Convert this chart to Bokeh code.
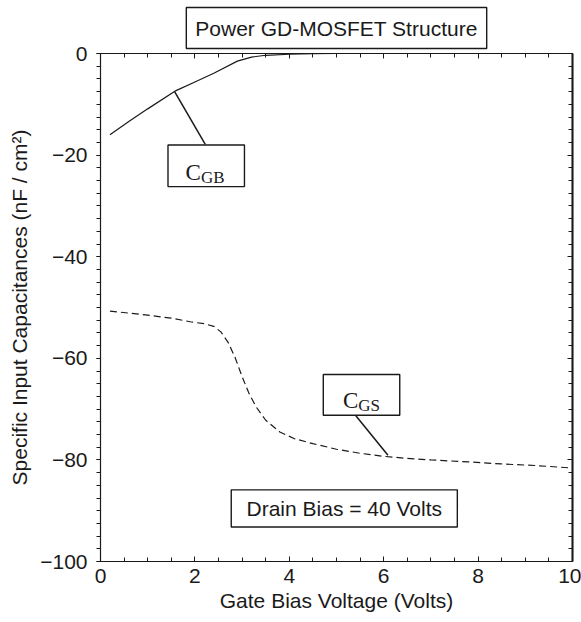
from bokeh.plotting import figure
from bokeh.models import (Range1d, LinearAxis, SingleIntervalTicker,
                          CustomJSTickFormatter)
from bokeh.core.properties import value
from bokeh.embed import file_html
from bokeh.resources import INLINE

# ---------------- data ----------------
gate_cgb = [0.2, 0.6, 1.0, 1.6, 2.0, 2.4, 2.9, 3.2, 3.5, 4.0, 4.5, 5.0]
cgb = [-16.0, -13.4, -10.9, -7.3, -5.6, -3.9, -1.5, -0.7, -0.35, -0.15, -0.05, 0.0]

gate_cgs = [0.2, 0.6, 1.0, 1.5, 1.9, 2.2, 2.4, 2.55, 2.7, 2.85, 3.0, 3.15, 3.3,
            3.5, 3.8, 4.1, 4.5, 5.0, 5.5, 6.0, 6.5, 7.0, 7.8, 8.5, 9.2, 10.0]
cgs = [-50.7, -51.1, -51.5, -52.1, -52.8, -53.2, -53.7, -54.8, -56.8, -59.8,
       -63.6, -67.0, -69.6, -72.2, -74.5, -75.8, -76.8, -77.9, -78.7, -79.3,
       -79.7, -80.0, -80.4, -80.8, -81.1, -81.6]

x_ticks = [0, 2, 4, 6, 8, 10]
x_tick_labels = ["0", "2", "4", "6", "8", "10"]
y_ticks = [0, -20, -40, -60, -80, -100]
y_tick_labels = ["0", "\u221220", "\u221240", "\u221260", "\u221280", "\u2212100"]

title_text = "Power GD-MOSFET Structure"
x_label = "Gate Bias Voltage (Volts)"
y_label = "Specific Input Capacitances (nF / cm\u00b2)"
note_text = "Drain Bias = 40 Volts"

# ---------------- figure ----------------
SANS = "Liberation Sans"
SERIF = "Liberation Serif"
INK = "#1a1a1a"

p = figure(width=581, height=622, x_range=Range1d(0, 10), y_range=Range1d(-100, 0),
           output_backend="svg", toolbar_location=None,
           min_border_left=100, min_border_right=9, min_border_top=53,
           min_border_bottom=61)
p.grid.visible = False
p.outline_line_color = INK
p.outline_line_width = 1.2
p.background_fill_color = "white"
p.border_fill_color = "white"

# title in a box
p.title.text = title_text
p.title.align = "center"
p.title.text_font = SANS
p.title.text_font_size = "21px"
p.title.text_font_style = "normal"
p.title.text_color = INK
p.title.border_line_color = INK
p.title.border_line_width = 1.4
p.title.background_fill_color = "white"
p.title.padding = 9
p.title.standoff = 10

xt = SingleIntervalTicker(interval=2, num_minor_ticks=4)
yt = SingleIntervalTicker(interval=20, num_minor_ticks=8)

xa = p.xaxis[0]
xa.ticker = xt
xa.major_label_overrides = dict(zip(x_ticks, x_tick_labels))
xa.axis_label = x_label
ya = p.yaxis[0]
ya.ticker = yt
ya.major_label_overrides = dict(zip(y_ticks, y_tick_labels))
ya.axis_label = y_label

for ax in (xa, ya):
    ax.axis_line_color = INK
    ax.major_tick_line_color = INK
    ax.minor_tick_line_color = INK
    ax.major_label_text_font = SANS
    ax.major_label_text_font_size = "21px"
    ax.major_label_text_color = INK
    ax.axis_label_text_font = SANS
    ax.axis_label_text_font_size = "21px"
    ax.axis_label_text_font_style = "normal"
    ax.axis_label_text_color = INK

xa.major_tick_in = 5
xa.major_tick_out = 0
xa.minor_tick_in = 4
xa.minor_tick_out = 0
xa.major_label_standoff = 7
xa.axis_label_standoff = 3

ya.major_tick_in = 0
ya.major_tick_out = 4
ya.minor_tick_in = 0
ya.minor_tick_out = 4
ya.major_label_standoff = 9
ya.axis_label_standoff = 6

blank = CustomJSTickFormatter(code="return '';")
top = LinearAxis(ticker=SingleIntervalTicker(interval=2, num_minor_ticks=4),
                 formatter=blank, major_tick_in=5, major_tick_out=0,
                 minor_tick_in=4, minor_tick_out=0, major_label_standoff=0,
                 axis_line_color=INK, major_tick_line_color=INK,
                 minor_tick_line_color=INK)
right = LinearAxis(ticker=SingleIntervalTicker(interval=20, num_minor_ticks=8),
                   formatter=blank, major_tick_in=5, major_tick_out=0,
                   minor_tick_in=4, minor_tick_out=0, major_label_standoff=0,
                   axis_line_color=INK, axis_line_width=2,
                   major_tick_line_color=INK, minor_tick_line_color=INK)
p.add_layout(top, "above")
p.add_layout(right, "right")

# ---------------- curves ----------------
p.line(gate_cgb, cgb, line_color=INK, line_width=1.2)
p.line(gate_cgs, cgs, line_color=INK, line_width=1.2, line_dash="7 4")

# ---------------- annotations ----------------
# leader lines
p.line([1.57, 2.22], [-7.5, -17.9], line_color=INK, line_width=1.5)
p.line([5.41, 6.09], [-71.3, -79.1], line_color=INK, line_width=1.5)

# boxes: CGB, CGS, drain bias note
p.quad(left=[1.43, 4.72, 2.77], right=[3.05, 6.34, 7.56],
       top=[-18.0, -63.2, -85.9], bottom=[-26.2, -71.2, -93.2],
       fill_color="white", line_color=INK, line_width=1.4)

p.text(x=[1.80, 5.14], y=[-23.5, -68.4], text=["C", "C"],
       text_font=value(SERIF), text_font_size="23px", text_color=INK,
       text_align="left", text_baseline="alphabetic")
p.text(x=[2.13, 5.46], y=[-24.4, -69.2], text=["GB", "GS"],
       text_font=value(SERIF), text_font_size="17px", text_color=INK,
       text_align="left", text_baseline="alphabetic")

p.text(x=[5.165], y=[-89.55], text=[note_text],
       text_font=value(SANS), text_font_size="21px", text_color=INK,
       text_align="center", text_baseline="middle")

open("out.html", "w").write(file_html(p, INLINE))
